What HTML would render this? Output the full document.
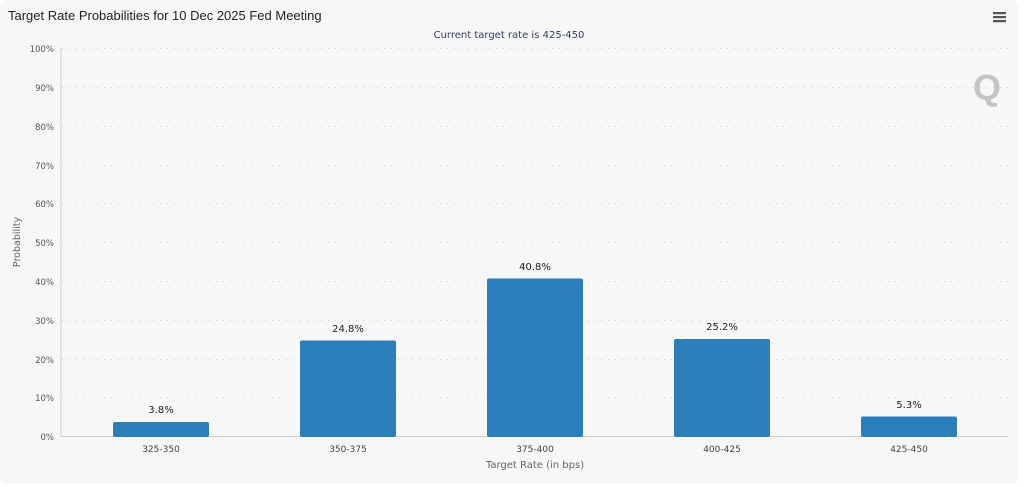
<!DOCTYPE html>
<html><head><meta charset="utf-8"><style>
body{margin:0;background:#fff;}
svg{display:block}
text{font-family:"DejaVu Sans","Liberation Sans",sans-serif;}
</style></head><body>
<svg width="1024" height="487" xmlns="http://www.w3.org/2000/svg">
<rect x="0" y="0" width="1018" height="484" rx="6" fill="#f7f7f7"/>
<text x="8" y="20" font-size="13" fill="#222" style="font-family:'Liberation Sans',sans-serif">Target Rate Probabilities for 10 Dec 2025 Fed Meeting</text>
<text x="509" y="38" font-size="10" fill="#333d5c" text-anchor="middle">Current target rate is 425-450</text>
<g fill="#555"><rect x="993" y="12" width="13" height="2.2"/><rect x="993" y="16" width="13" height="2.2"/><rect x="993" y="20" width="13" height="2.2"/></g>
<text x="987" y="100" font-size="36" font-weight="bold" fill="#c4c4c4" text-anchor="middle" style="font-family:'Liberation Sans',sans-serif">Q</text>
<g stroke="#ccc" stroke-dasharray="1,6" stroke-width="1">
<line x1="62" x2="1008" y1="48.5" y2="48.5"/><line x1="62" x2="1008" y1="87.5" y2="87.5"/><line x1="62" x2="1008" y1="126.5" y2="126.5"/><line x1="62" x2="1008" y1="165.5" y2="165.5"/><line x1="62" x2="1008" y1="203.5" y2="203.5"/><line x1="62" x2="1008" y1="242.5" y2="242.5"/><line x1="62" x2="1008" y1="281.5" y2="281.5"/><line x1="62" x2="1008" y1="320.5" y2="320.5"/><line x1="62" x2="1008" y1="359.5" y2="359.5"/><line x1="62" x2="1008" y1="397.5" y2="397.5"/>
</g>
<line x1="61" x2="61" y1="48" y2="437" stroke="#ccc"/>
<line x1="61" x2="1008" y1="436.5" y2="436.5" stroke="#ccc"/>
<g font-size="8.5" fill="#555" text-anchor="end">
<text x="54" y="52">100%</text><text x="54" y="91">90%</text><text x="54" y="130">80%</text><text x="54" y="169">70%</text><text x="54" y="207">60%</text><text x="54" y="246">50%</text><text x="54" y="285">40%</text><text x="54" y="324">30%</text><text x="54" y="363">20%</text><text x="54" y="401">10%</text><text x="54" y="440">0%</text>
</g>
<text transform="translate(20,242) rotate(-90)" font-size="9.5" fill="#666" text-anchor="middle">Probability</text>
<g fill="#2a7fba">
<rect x="113" y="422" width="96" height="15" rx="2"/>
<rect x="300" y="340.5" width="96" height="96.5" rx="2"/>
<rect x="487" y="278.5" width="96" height="158.5" rx="2"/>
<rect x="674" y="339" width="96" height="98" rx="2"/>
<rect x="861" y="416.5" width="96" height="20.5" rx="2"/>
</g>
<g font-size="10" fill="#222" text-anchor="middle">
<text x="161" y="413">3.8%</text><text x="348" y="332">24.8%</text><text x="535" y="270">40.8%</text><text x="722" y="330">25.2%</text><text x="909" y="408">5.3%</text>
</g>
<g font-size="9" fill="#444" text-anchor="middle">
<text x="161" y="452">325-350</text><text x="348" y="452">350-375</text><text x="535" y="452">375-400</text><text x="722" y="452">400-425</text><text x="909" y="452">425-450</text>
</g>
<text x="535" y="468" font-size="10" fill="#666" text-anchor="middle">Target Rate (in bps)</text>
</svg>
</body></html>
